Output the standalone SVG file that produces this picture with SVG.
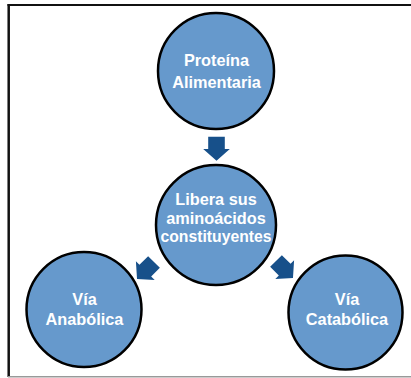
<svg xmlns="http://www.w3.org/2000/svg" width="411" height="378" viewBox="0 0 411 378">
<style>
.node{fill:#6699CC;stroke:#000;stroke-width:2.5}
.lbl{font-family:"Liberation Sans",Arial,sans-serif;font-weight:bold;font-size:16.3px;fill:#fff;text-anchor:middle}
.arr{fill:#17508A}
</style>
<defs>
<path id="blk" d="M-8.3,0 H8.3 V12.3 H13.3 L0,24 L-13.3,12.3 H-8.3 Z"/>
</defs>
<rect width="411" height="378" fill="#fff"/>
<g id="frame">
<line x1="7.5" y1="5" x2="411" y2="5" stroke="#111" stroke-width="2.2"/>
<line x1="8.7" y1="4" x2="8.7" y2="377" stroke="#111" stroke-width="2.5"/>
<line x1="8" y1="376.7" x2="411" y2="376.7" stroke="#999" stroke-width="1.5"/>
</g>
<g id="connectors">
<use href="#blk" class="arr" transform="translate(216.5,136.7)"/>
<use href="#blk" class="arr" transform="translate(154,262) rotate(45)"/>
<use href="#blk" class="arr" transform="translate(276,261) rotate(-45)"/>
</g>
<g id="proteina">
<circle class="node" cx="216" cy="71" r="58"/>
<text class="lbl" x="216.5" y="65.7">Proteína</text>
<text class="lbl" x="216.5" y="88.3">Alimentaria</text>
</g>
<g id="libera">
<circle class="node" cx="216" cy="225" r="60"/>
<text class="lbl" x="216" y="205">Libera sus</text>
<text class="lbl" x="216" y="224">aminoácidos</text>
<text class="lbl" x="216" y="241.7" textLength="111" lengthAdjust="spacingAndGlyphs">constituyentes</text>
</g>
<g id="anabolica">
<circle class="node" cx="84" cy="309.5" r="57.5"/>
<text class="lbl" x="84.5" y="305">Vía</text>
<text class="lbl" x="84.5" y="325">Anabólica</text>
</g>
<g id="catabolica">
<circle class="node" cx="345.5" cy="312.5" r="57"/>
<text class="lbl" x="347" y="305">Vía</text>
<text class="lbl" x="347" y="325">Catabólica</text>
</g>
</svg>
